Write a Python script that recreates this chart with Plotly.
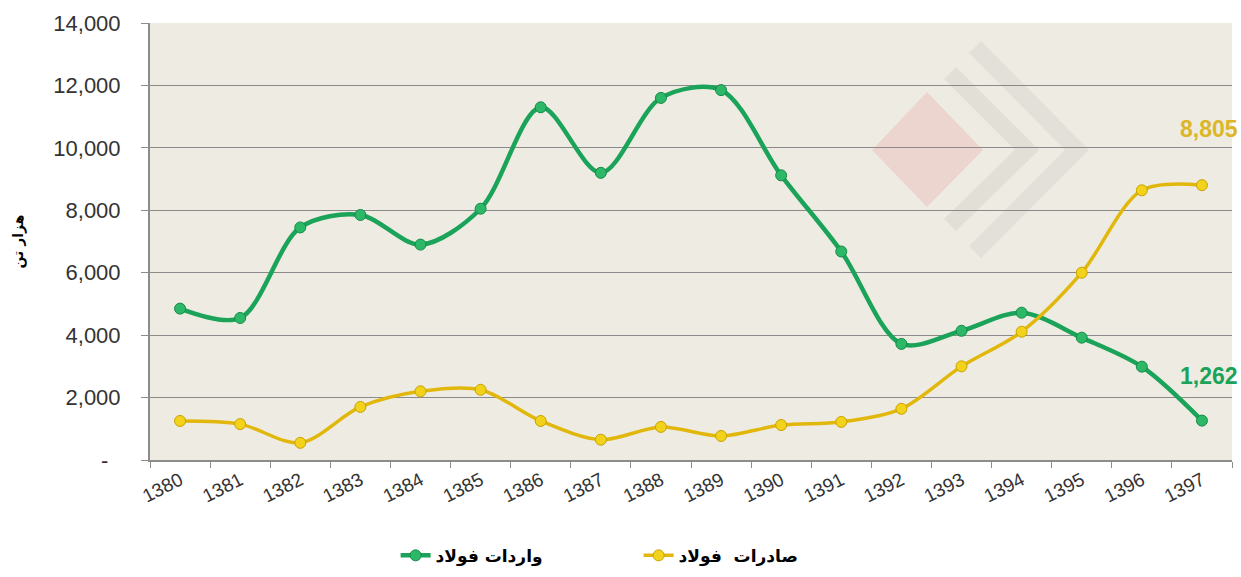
import plotly.graph_objects as go

years = [str(y) for y in range(1380, 1398)]
imports = [4850, 4550, 7450, 7850, 6900, 8050, 11300, 9200, 11600, 11850,
           9120, 6680, 3720, 4140, 4720, 3920, 2990, 1262]
exports = [1250, 1150, 550, 1700, 2200, 2250, 1250, 650, 1060, 770,
           1120, 1220, 1640, 3000, 4110, 6000, 8640, 8805]
ytick_vals = [0, 2000, 4000, 6000, 8000, 10000, 12000, 14000]
ytick_text = ["-\u00a0\u00a0", "2,000", "4,000", "6,000", "8,000", "10,000", "12,000", "14,000"]
name_imp = "واردات فولاد"
name_exp = "صادرات  فولاد"
y_title = "هزار تن"

GREEN = "#1BA35A"
GOLD = "#E2B70C"

W, H = 1241, 577
ML, MR, MT, MB = 150, 9, 23, 117
PW, PH = W - ML - MR, H - MT - MB


def dom(px, py):
    return (px - ML) / PW, (H - MB - py) / PH


def path(points, close=False):
    s = ""
    for i, (px, py) in enumerate(points):
        x, y = dom(px, py)
        s += ("M" if i == 0 else "L") + "{:.4f},{:.4f} ".format(x, y)
    return s + ("Z" if close else "")


fig = go.Figure()

# faint watermark logo (background decoration, translucent so gridlines show through)
fig.add_shape(type="path", xref="x domain", yref="y domain", layer="below",
              path=path([(872, 150), (927, 92), (983, 150), (927, 207)], close=True),
              fillcolor="rgba(226,144,146,0.25)", line=dict(width=0))
fig.add_shape(type="path", xref="x domain", yref="y domain", layer="below",
              path=path([(950, 73), (1027, 150), (950, 225)]),
              line=dict(color="rgba(198,193,189,0.3)", width=17))
fig.add_shape(type="path", xref="x domain", yref="y domain", layer="below",
              path=path([(975, 47), (1077, 150), (975, 252)]),
              line=dict(color="rgba(198,193,189,0.28)", width=17))

fig.add_trace(go.Scatter(
    x=years, y=imports, name=name_imp, mode="lines+markers",
    line=dict(color=GREEN, width=4.5, shape="spline", smoothing=0.9),
    marker=dict(size=11, color="#2DB868", line=dict(color="#138A45", width=1)),
))
fig.add_trace(go.Scatter(
    x=years, y=exports, name=name_exp, mode="lines+markers",
    line=dict(color=GOLD, width=3.5, shape="spline", smoothing=0.9),
    marker=dict(size=11, color="#F2D21A", line=dict(color="#C9A200", width=1)),
))

last = len(years) - 1
fig.add_annotation(x=last, y=exports[-1], text="<b>{:,}</b>".format(exports[-1]),
                   showarrow=False, xanchor="right", yanchor="middle", yshift=56, xshift=38,
                   font=dict(family="Arial", size=23, color="#DDB627"))
fig.add_annotation(x=last, y=imports[-1], text="<b>{:,}</b>".format(imports[-1]),
                   showarrow=False, xanchor="right", yanchor="middle", yshift=45, xshift=38,
                   font=dict(family="Arial", size=23, color=GREEN))

fig.update_layout(
    width=W, height=H,
    margin=dict(l=ML, r=MR, t=MT, b=MB, autoexpand=False),
    paper_bgcolor="white", plot_bgcolor="#EEECE2",
    showlegend=True,
    legend=dict(orientation="h", x=0.227, xanchor="left", y=-0.178, yanchor="top",
                entrywidth=198, entrywidthmode="pixels", itemwidth=30,
                font=dict(family="DejaVu Sans", size=17, color="#000000", weight="bold")),
    font=dict(family="Arial", color="#333333"),
)
fig.update_xaxes(
    type="category", range=[-0.5, 17.5], tickangle=-27, automargin=False,
    tickfont=dict(family="Arial", size=19, color="#333333"),
    showline=True, linecolor="#8C8C8C", linewidth=2,
    ticks="outside", tickson="boundaries", ticklen=6, tickcolor="#8C8C8C",
    showgrid=False,
)
fig.update_yaxes(
    range=[0, 14000], tickvals=ytick_vals, ticktext=ytick_text, automargin=False,
    tickfont=dict(family="Arial", size=22, color="#333333"),
    showgrid=True, gridcolor="#8A8A8A", gridwidth=1,
    showline=True, linecolor="#8C8C8C", linewidth=2,
    ticks="outside", ticklen=7, tickcolor="#8C8C8C", ticklabelstandoff=16,
    zeroline=False,
    title=dict(text="<b>" + y_title + "</b>", font=dict(family="DejaVu Sans", size=14, color="#000000"), standoff=26),
)

fig.write_html("out.html", config={"displayModeBar": False},
               post_script="document.body.style.margin='0';document.body.style.overflow='hidden';")
